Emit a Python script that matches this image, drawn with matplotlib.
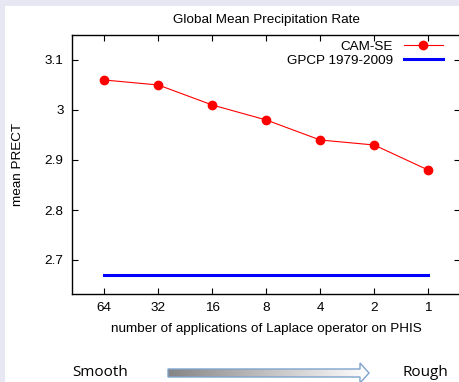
import numpy as np
import matplotlib
matplotlib.use("Agg")
import matplotlib.pyplot as plt
from matplotlib.patches import Rectangle, Polygon
from matplotlib.colors import LinearSegmentedColormap

categories = ["64", "32", "16", "8", "4", "2", "1"]
cam_se = [3.06, 3.05, 3.01, 2.98, 2.94, 2.93, 2.88]
gpcp = [2.67] * 7
yticks = [2.7, 2.8, 2.9, 3.0, 3.1]
yticklabels = ["2.7", "2.8", "2.9", "3", "3.1"]

plt.rcParams['font.family'] = ['Liberation Sans', 'DejaVu Sans']

W, H = 460, 382
fs = 9.7
fig = plt.figure(figsize=(W / 100, H / 100), dpi=100)
fig.patch.set_facecolor('#e7e7f3')

# background / decoration axes in pixel coordinates (y from top)
bg = fig.add_axes([0, 0, 1, 1], zorder=0)
bg.set_axis_off()
bg.set_xlim(0, W)
bg.set_ylim(H, 0)
bg.patch.set_alpha(0)
bg.add_patch(Rectangle((5, 6), W, H, facecolor='white', edgecolor='none', zorder=0))

pts = [(168, 369), (360, 369), (360, 363), (369, 373), (360, 383), (360, 377), (168, 377)]
grad = np.linspace(0, 1, 256).reshape(1, -1)
cmap = LinearSegmentedColormap.from_list('g', ['#858585', '#ffffff'])
im = bg.imshow(grad, cmap=cmap, extent=[168, 369, 383, 363], aspect='auto', zorder=2,
               interpolation='bilinear')
clip = Polygon(pts, closed=True, facecolor='none', edgecolor='none')
bg.add_patch(clip)
im.set_clip_path(clip)
bg.add_patch(Polygon(pts, closed=True, facecolor='none', edgecolor='#7fa3cc', lw=1.0, zorder=3))
bg.set_xlim(0, W)
bg.set_ylim(H, 0)

bg.text(100, 373, 'Smooth', fontsize=11, family=['Open Sans', 'DejaVu Sans'],
        ha='center', va='center')
bg.text(425, 373, 'Rough', fontsize=11, family=['Open Sans', 'DejaVu Sans'],
        ha='center', va='center')

ax = fig.add_axes([72 / W, 1 - 294 / H, (460.5 - 72) / W, (294 - 35) / H], zorder=1)
ax.patch.set_alpha(0)
x = np.arange(len(categories))
ax.plot(x, cam_se, color='red', lw=0.8, marker='o', ms=6, label='CAM-SE')
ax.plot(x, gpcp, color='blue', lw=2.2, label='GPCP 1979-2009')
ax.set_xlim(-0.6, 6.6)
ax.set_ylim(2.632, 3.15)
ax.set_xticks(x)
ax.set_xticklabels(categories)
ax.set_yticks(yticks)
ax.set_yticklabels(yticklabels)
ax.tick_params(direction='in', top=True, right=True, labelsize=fs, length=4, width=0.8, pad=6)
for s in ax.spines.values():
    s.set_linewidth(1.0)
ax.set_title('Global Mean Precipitation Rate', fontsize=fs, pad=9)
ax.set_xlabel('number of applications of Laplace operator on PHIS', fontsize=fs, labelpad=6)
ax.set_ylabel('mean PRECT', fontsize=fs, labelpad=15)
ax.legend(loc='upper right', bbox_to_anchor=(448 / W, 1 - 35 / H), bbox_transform=fig.transFigure,
          frameon=False, fontsize=fs, markerfirst=False, handlelength=2.9,
          borderaxespad=0.0, labelspacing=0.1, handletextpad=0.8)

fig.savefig('out.png', dpi=100)
